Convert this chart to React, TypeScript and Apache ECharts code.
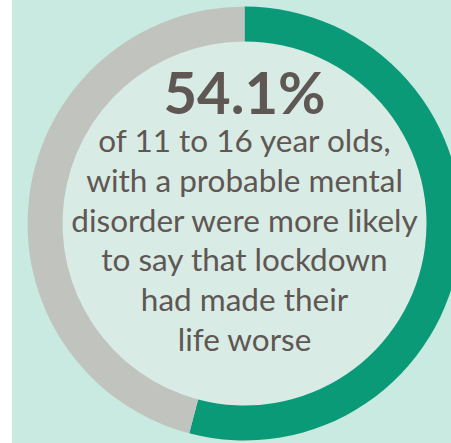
import React, { useEffect, useRef } from "react";
import * as echarts from "echarts";

const sliceNames = ["Made life worse", "Other"];
const sliceValues = [54.1, 45.9];
const headline = "54.1%";
const bodyLines = [
  "of 11 to 16 year olds,",
  "with a probable mental",
  "disorder were more likely",
  "to say that lockdown",
  "had made their",
  "life worse",
];

const GREEN = "#0b9a77";
const GREY = "#c1c3be";
const BG = "#c9eae0";
const INNER = "#d8ebe5";
const TEXT = "#5f5753";

export default function App() {
  const ref = useRef<HTMLDivElement>(null);
  useEffect(() => {
    if (!ref.current) return;
    const chart = echarts.init(ref.current, undefined, { renderer: "svg" });
    const cx = 244.5;
    const cy = 223.5;
    const lineY0 = 140;
    const lineGap = 39.8;
    chart.setOption({
      animation: false,
      graphic: [
        {
          type: "rect",
          z: -10,
          silent: true,
          shape: { x: 12, y: 0, width: 451, height: 443 },
          style: { fill: BG },
        },
        {
          type: "circle",
          z: -5,
          silent: true,
          shape: { cx, cy, r: 183 },
          style: { fill: INNER },
        },
        {
          type: "text",
          z: 10,
          x: cx,
          y: 91,
          style: {
            text: headline,
            fill: TEXT,
            font: "bold 58px Lato",
            align: "center",
            verticalAlign: "middle",
          },
        },
        ...bodyLines.map((t, i) => ({
          type: "text",
          z: 10,
          x: cx,
          y: lineY0 + i * lineGap,
          style: {
            text: t,
            fill: TEXT,
            font: "31.5px Lato",
            align: "center",
            verticalAlign: "middle",
          },
        })),
      ],
      series: [
        {
          type: "pie",
          center: [cx, cy],
          radius: [182, 217],
          startAngle: 90,
          clockwise: true,
          silent: true,
          label: { show: false },
          labelLine: { show: false },
          itemStyle: { borderWidth: 0 },
          data: sliceNames.map((n, i) => ({
            name: n,
            value: sliceValues[i],
            itemStyle: { color: i === 0 ? GREEN : GREY },
          })),
        },
      ],
    });
    return () => chart.dispose();
  }, []);
  return (
    <div
      ref={ref}
      style={{ position: "fixed", left: 0, top: 0, width: 451, height: 443, background: "#ffffff" }}
    />
  );
}
